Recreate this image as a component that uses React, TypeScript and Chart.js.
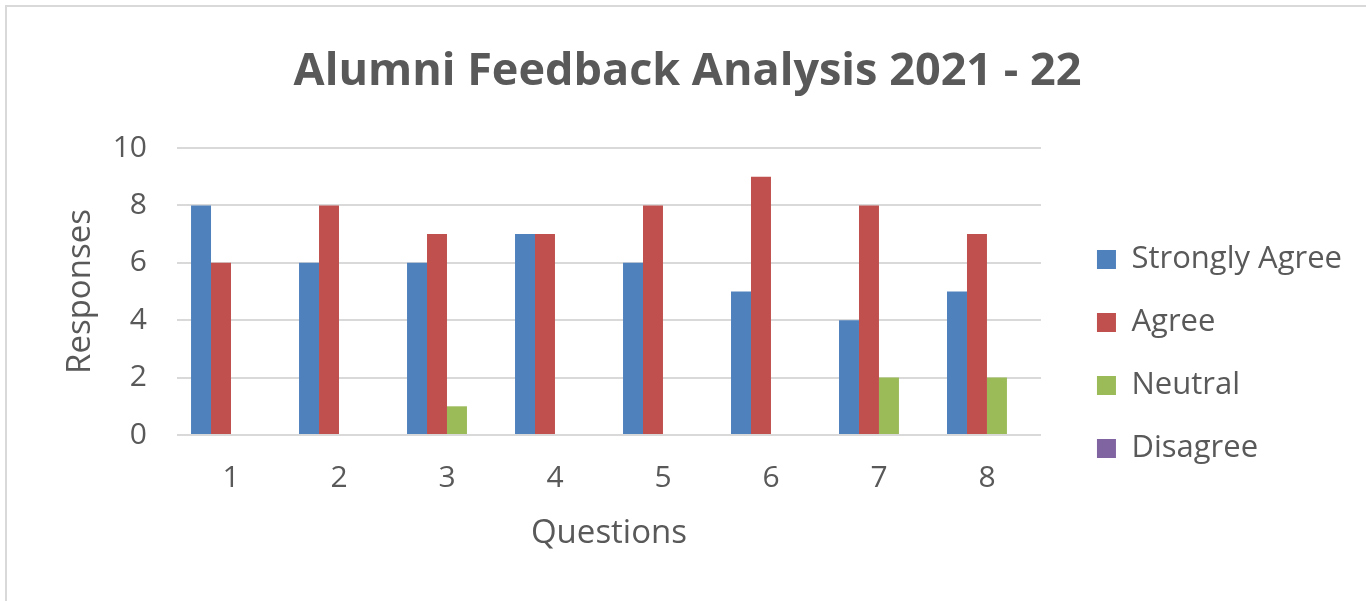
import { useEffect, useRef } from "react";
import { Chart, registerables } from "chart.js";

Chart.register(...registerables);

const chartTitle = "Alumni Feedback Analysis 2021 - 22";
const xTitle = "Questions";
const yTitle = "Responses";
const categories = ["1", "2", "3", "4", "5", "6", "7", "8"];
const seriesNames = ["Strongly Agree", "Agree", "Neutral", "Disagree"];
const stronglyAgree = [8, 6, 6, 7, 6, 5, 4, 5];
const agree = [6, 8, 7, 7, 8, 9, 8, 7];
const neutral = [0, 0, 1, 0, 0, 0, 2, 2];
const disagree = [0, 0, 0, 0, 0, 0, 0, 0];
const seriesColors = ["#4F81BD", "#C0504D", "#9BBB59", "#8064A2"];
const yMin = 0;
const yMax = 10;
const yStep = 2;

const FONT = "'Open Sans', 'Noto Sans', sans-serif";
const TEXT = "#595959";
const GRID = "#D9D9D9";

const CW = 1359;
const CH = 594;
const PLOT_LEFT = 170;
const PLOT_RIGHT = 1034;
const LEGEND_BOX_X = 1090;
const LEGEND_PAD = 32;
const Y_TITLE_X = 74;
const AXIS_TITLE_SIZE = 33;

export default function App() {
  const ref = useRef<HTMLCanvasElement | null>(null);

  useEffect(() => {
    let chart: any = null;
    let cancelled = false;
    const lay = { pl: 0, pr: 20 };
    const yTitleLH = AXIS_TITLE_SIZE * 1.2;

    const build = () => {
      if (cancelled || !ref.current) return;
      const values = [stronglyAgree, agree, neutral, disagree];
      chart = new Chart(ref.current, {
        type: "bar",
        data: {
          labels: categories,
          datasets: seriesNames.map((name, i) => ({
            label: name,
            data: values[i],
            backgroundColor: seriesColors[i],
            borderWidth: 0,
            barPercentage: 1,
            categoryPercentage: 0.74,
          })),
        },
        options: {
          responsive: false,
          animation: false,
          layout: { padding: { left: lay.pl, right: lay.pr, top: 0, bottom: 41 } },
          plugins: {
            title: {
              display: true,
              text: chartTitle,
              color: TEXT,
              font: { family: FONT, size: 45, weight: "bold" },
              padding: { top: 38, bottom: 49 },
            },
            legend: {
              position: "right",
              align: "center",
              maxWidth: 600,
              title: {
                display: true,
                text: " ",
                font: { family: FONT, size: 10 },
                padding: { top: 129, bottom: 0 },
              },
              labels: {
                color: TEXT,
                font: { family: FONT, size: 31 },
                boxWidth: 19,
                boxHeight: 19,
                padding: LEGEND_PAD,
              },
            },
            tooltip: { enabled: false },
          },
          scales: {
            x: {
              grid: { display: false, drawTicks: false },
              border: { display: false },
              ticks: { color: TEXT, font: { family: FONT, size: 30 }, padding: 25 },
              title: {
                display: true,
                text: xTitle,
                color: TEXT,
                font: { family: FONT, size: AXIS_TITLE_SIZE },
                padding: { top: 0, bottom: 7 },
              },
              afterFit: (s: any) => {
                s.height = 125;
              },
            },
            y: {
              min: yMin,
              max: yMax,
              grid: { color: GRID, lineWidth: 2, drawTicks: false },
              border: { display: false },
              ticks: { stepSize: yStep, color: TEXT, font: { family: FONT, size: 30 }, padding: 30 },
              title: {
                display: true,
                text: yTitle,
                color: TEXT,
                font: { family: FONT, size: AXIS_TITLE_SIZE },
                padding: { top: Y_TITLE_X - yTitleLH / 2, bottom: 0 },
              },
              afterFit: (s: any) => {
                s.width = PLOT_LEFT - lay.pl;
              },
            },
            spacer: {
              type: "linear",
              position: "right",
              display: true,
              grid: { display: false, drawTicks: false },
              border: { display: false },
              ticks: { display: false },
              afterFit: (s: any) => {
                s.width = LEGEND_BOX_X - LEGEND_PAD - PLOT_RIGHT;
              },
            },
          },
        },
      } as any);

      // place legend so its first box lands at LEGEND_BOX_X, keep title centred
      const w = chart.legend.width;
      const pr = Math.max(0, Math.round(CW - (LEGEND_BOX_X - LEGEND_PAD) - w));
      lay.pr = pr;
      lay.pl = pr + 2;
      chart.options.layout.padding = { left: lay.pl, right: lay.pr, top: 0, bottom: 41 };
      chart.options.scales.y.title.padding = { top: Y_TITLE_X - lay.pl - yTitleLH / 2, bottom: 0 };
      chart.update();
    };

    const fonts = [`30px 'Open Sans'`, `33px 'Open Sans'`, `bold 45px 'Open Sans'`];
    const fl: any = (document as any).fonts;
    if (fl && fl.load) {
      Promise.all(fonts.map((f) => fl.load(f)))
        .catch(() => null)
        .then(() => build());
    } else {
      build();
    }

    return () => {
      cancelled = true;
      if (chart) chart.destroy();
    };
  }, []);

  return (
    <div
      style={{
        position: "fixed",
        left: 5,
        top: 5,
        right: 0,
        bottom: 0,
        borderTop: "2px solid #D9D9D9",
        borderLeft: "2px solid #D9D9D9",
        background: "#fff",
        overflow: "hidden",
      }}
    >
      <canvas ref={ref} width={CW} height={CH} style={{ display: "block" }} />
    </div>
  );
}
